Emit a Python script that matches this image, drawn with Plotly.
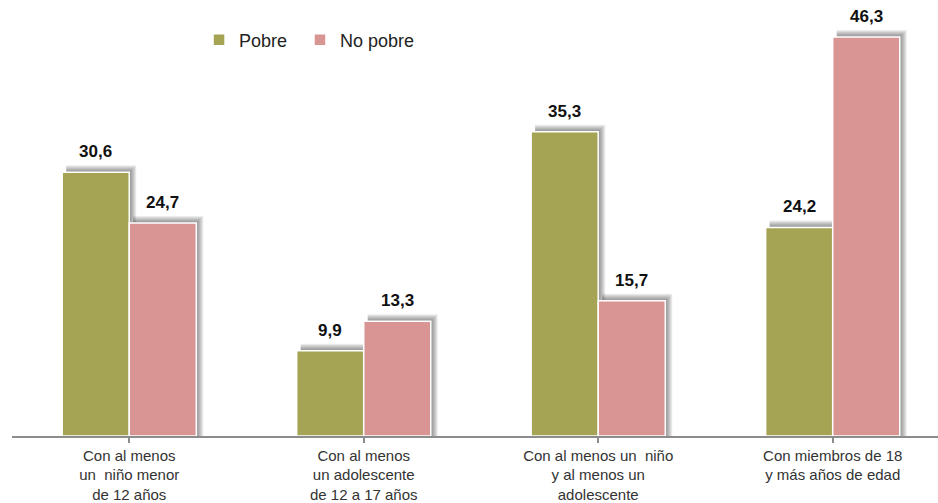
import plotly.graph_objects as go

categories = [
    "Con al menos<br>un  niño menor<br>de 12 años",
    "Con al menos<br>un adolescente<br>de 12 a 17 años",
    "Con al menos un  niño<br>y al menos un<br>adolescente",
    "Con miembros de 18<br>y más años de edad",
]
pobre = [30.6, 9.9, 35.3, 24.2]
no_pobre = [24.7, 13.3, 15.7, 46.3]

OLIVE = "#A5A455"
PINK = "#D99594"
BAR_W = 0.286           # bar width in category units
PX_X = 234.5            # pixels per category
PX_Y = 8.62             # pixels per percentage point
FONT = "Liberation Sans, Arial, sans-serif"

xs = list(range(len(categories)))
fig = go.Figure()

# blurred drop shadow: stacked translucent layers, widest first
for vals, off in ((pobre, -BAR_W), (no_pobre, 0.0)):
    for k in range(7, 0, -1):
        fig.add_trace(go.Bar(
            x=xs, y=[v + k / PX_Y for v in vals],
            width=BAR_W - 4 / PX_X + k / PX_X, offset=off + 4 / PX_X,
            marker=dict(color="rgba(40,40,40,0.09)", line=dict(width=0)),
            hoverinfo="skip", showlegend=False,
        ))

for name, vals, color, off, leg in (("Pobre", pobre, OLIVE, -BAR_W, "legend"),
                                    ("No pobre", no_pobre, PINK, 0.0, "legend2")):
    fig.add_trace(go.Bar(
        name=name, x=xs, y=vals,
        width=BAR_W, offset=off, legend=leg,
        marker=dict(color=color, line=dict(color="white", width=1.5)),
    ))
    for x, v in zip(xs, vals):
        fig.add_annotation(
            x=x + off + BAR_W / 2, y=v, xref="x", yref="y",
            text=f"{v:.1f}".replace(".", ","), showarrow=False,
            yanchor="bottom", yshift=9,
            font=dict(family=FONT, size=17, color="#111111", weight="bold"),
        )

legend_style = dict(
    orientation="h", y=0.908, xanchor="left", yanchor="middle",
    font=dict(family=FONT, size=18, color="#222222"),
    itemwidth=30, bgcolor="rgba(0,0,0,0)",
)

fig.update_layout(
    width=938, height=503,
    margin=dict(l=12, r=0, t=0, b=67),
    paper_bgcolor="white", plot_bgcolor="white",
    barmode="overlay",
    font=dict(family=FONT),
    legend=dict(x=0.202, **legend_style),
    legend2=dict(x=0.311, **legend_style),
    showlegend=True,
)
fig.update_xaxes(
    tickmode="array", tickvals=xs, ticktext=categories,
    range=[-0.5, 3.449],
    showline=True, linecolor="#8c8c8c", linewidth=1.5,
    ticks="outside", tickson="boundaries", ticklen=5, tickcolor="#8c8c8c",
    tickwidth=1.5,
    tickfont=dict(family=FONT, size=15, color="#333333"),
    showgrid=False, zeroline=False,
)
fig.update_yaxes(range=[0, 50.58], visible=False, showgrid=False, zeroline=False)

fig.write_html("out.html")
